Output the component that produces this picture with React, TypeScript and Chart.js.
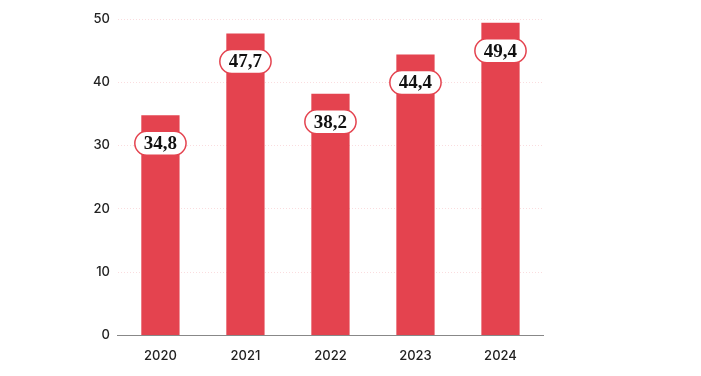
import React, { useEffect, useRef } from "react";
import { Chart, registerables } from "chart.js";

Chart.register(...registerables);

const categories = ["2020", "2021", "2022", "2023", "2024"];
const values = [34.8, 47.7, 38.2, 44.4, 49.4];
const valueLabels = ["34,8", "47,7", "38,2", "44,4", "49,4"];
const yTicks = [0, 10, 20, 30, 40, 50];

const BAR = "#E4434F";

const labelPlugin = {
  id: "pillLabels",
  afterDatasetsDraw(chart: any) {
    const ctx = chart.ctx;
    const meta = chart.getDatasetMeta(0);
    ctx.save();
    ctx.font = "bold 19px 'Liberation Serif', serif";
    ctx.textAlign = "center";
    ctx.textBaseline = "middle";
    meta.data.forEach((el: any, i: number) => {
      const text = valueLabels[i];
      const cx = el.x;
      const cy = el.y + 28;
      const tw = ctx.measureText(text).width;
      const w = tw + 18;
      const h = 24;
      const r = h / 2;
      ctx.beginPath();
      ctx.moveTo(cx - w / 2 + r, cy - h / 2);
      ctx.lineTo(cx + w / 2 - r, cy - h / 2);
      ctx.arc(cx + w / 2 - r, cy, r, -Math.PI / 2, Math.PI / 2);
      ctx.lineTo(cx - w / 2 + r, cy + h / 2);
      ctx.arc(cx - w / 2 + r, cy, r, Math.PI / 2, (3 * Math.PI) / 2);
      ctx.closePath();
      ctx.fillStyle = "#ffffff";
      ctx.fill();
      ctx.lineWidth = 1.5;
      ctx.strokeStyle = BAR;
      ctx.stroke();
      ctx.fillStyle = "#111111";
      ctx.fillText(text, cx, cy + 1);
    });
    ctx.restore();
  },
};

export default function App() {
  const ref = useRef<HTMLCanvasElement>(null);
  useEffect(() => {
    const chart = new Chart(ref.current!, {
      type: "bar",
      data: {
        labels: categories,
        datasets: [
          {
            data: values,
            backgroundColor: BAR,
            barPercentage: 0.45,
            categoryPercentage: 1,
          },
        ],
      },
      options: {
        animation: false,
        responsive: true,
        maintainAspectRatio: false,
        layout: { padding: { left: 85, right: 158, top: 19, bottom: 7 } },
        plugins: { legend: { display: false }, tooltip: { enabled: false } },
        scales: {
          x: {
            grid: { display: false },
            border: { display: true, color: "#888888", width: 1 },
            ticks: {
              color: "#222",
              font: { family: "Inter", size: 13, weight: "500" },
              padding: 5,
            },
          },
          y: {
            min: 0,
            max: 50,
            afterBuildTicks: (axis: any) => {
              axis.ticks = yTicks.map((v) => ({ value: v }));
            },
            grid: {
              color: "rgba(228,67,79,0.18)",
              drawTicks: false,
            },
            border: { display: false, dash: [1, 2] },
            ticks: {
              color: "#222",
              font: { family: "Inter", size: 13, weight: "500" },
              padding: 8,
            },
          },
        },
      },
      plugins: [labelPlugin],
    });
    return () => chart.destroy();
  }, []);
  return (
    <div style={{ position: "absolute", left: 0, top: 0, width: 701, height: 376 }}>
      <canvas ref={ref} />
    </div>
  );
}
